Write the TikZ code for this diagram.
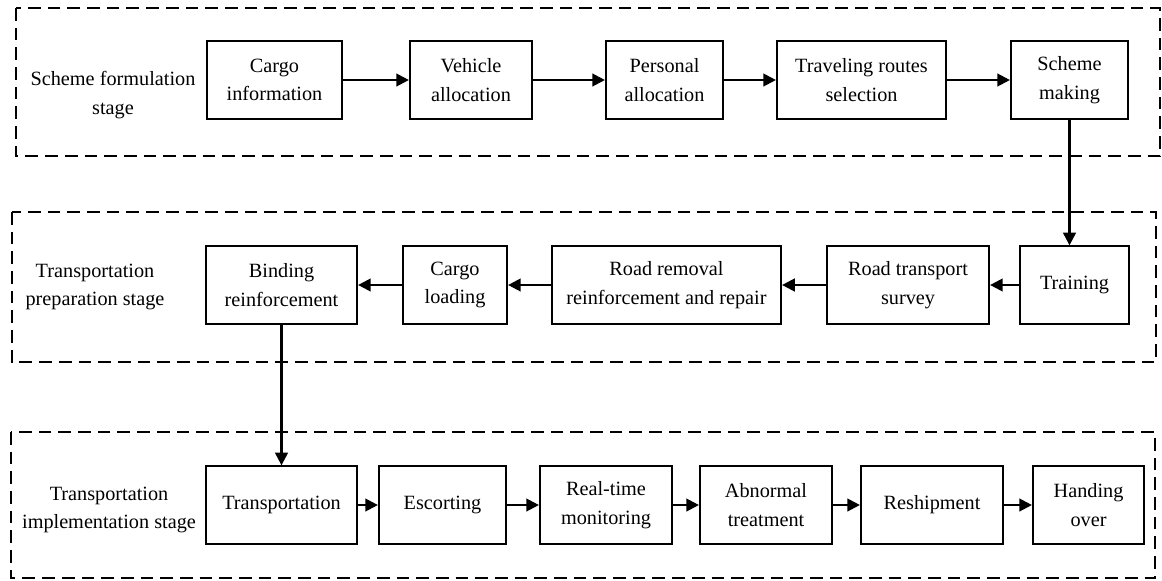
\documentclass[tikz,border=0pt]{standalone}
\usepackage{fontspec}
\setmainfont{Liberation Serif}
\usetikzlibrary{arrows.meta}

\begin{document}
\begin{tikzpicture}[x=0.025cm,y=-0.025cm,>={Triangle[length=9pt,width=9pt]},
    stagebox/.style={draw,line width=1.8pt,dash pattern=on 9pt off 5pt},
    taskbox/.style={draw,line width=1.5pt,align=center,minimum height=1.93cm,inner sep=2pt,font=\fontsize{14.4}{20.3}\selectfont},
    stagelabel/.style={align=center,inner sep=0pt,font=\fontsize{14.4}{20.3}\selectfont},
    flow/.style={->,line width=1.6pt}]
            \useasboundingbox (0,0) rectangle (1162,580);

            % draw the stage frames
            \draw[stagebox] (16,8) rectangle (1160,156);
            \draw[stagebox] (12,212) rectangle (1156,362);
            \draw[stagebox] (11,432) rectangle (1155,578);

            % stage names
            \node[stagelabel] (formlabel) at (113,95) {Scheme formulation\\stage};
            \node[stagelabel] (preplabel) at (95,287) {Transportation\\preparation stage};
            \node[stagelabel] (implabel) at (109,510) {Transportation\\implementation stage};

            % scheme formulation
            \node[taskbox,minimum width=3.375cm] (cargo) at (274.5,80) {Cargo\\information};
            \node[taskbox,minimum width=3.05cm] (vehicle) at (471,80) {Vehicle\\allocation};
            \node[taskbox,minimum width=2.925cm] (personal) at (664.5,80) {Personal\\allocation};
            \node[taskbox,minimum width=4.225cm] (routes) at (861.5,80) {Traveling routes\\selection};
            \node[taskbox,minimum width=2.925cm] (scheme) at (1069.5,80) {Scheme\\making};

            % transportation preparation
            \node[taskbox,minimum width=2.725cm] (training) at (1074.5,285) {Training};
            \node[taskbox,minimum width=4.05cm] (survey) at (908,285) {Road transport\\survey};
            \node[taskbox,minimum width=5.725cm] (removal) at (666.5,285) {Road removal\\reinforcement and repair};
            \node[taskbox,minimum width=2.6cm] (loading) at (455,285) {Cargo\\loading};
            \node[taskbox,minimum width=3.775cm] (binding) at (281.5,285) {Binding\\reinforcement};

            % transportation implementation
            \node[taskbox,minimum width=3.775cm] (transport) at (281.5,505) {Transportation};
            \node[taskbox,minimum width=3.175cm] (escort) at (442.5,505) {Escorting};
            \node[taskbox,minimum width=3.3cm] (monitor) at (606,505) {Real-time\\monitoring};
            \node[taskbox,minimum width=3.3cm] (abnormal) at (766,505) {Abnormal\\treatment};
            \node[taskbox,minimum width=3.55cm] (reship) at (932,505) {Reshipment};
            \node[taskbox,minimum width=2.775cm] (handing) at (1088.5,505) {Handing\\over};

            % arrows
            \draw[flow] (cargo) -- (vehicle);
            \draw[flow] (vehicle) -- (personal);
            \draw[flow] (personal) -- (routes);
            \draw[flow] (routes) -- (scheme);
            \draw[flow] (scheme.south) -- (scheme.south |- training.north);
            \draw[flow] (training) -- (survey);
            \draw[flow] (survey) -- (removal);
            \draw[flow] (removal) -- (loading);
            \draw[flow] (loading) -- (binding);
            \draw[flow] (binding) -- (transport);
            \draw[flow] (transport) -- (escort);
            \draw[flow] (escort) -- (monitor);
            \draw[flow] (monitor) -- (abnormal);
            \draw[flow] (abnormal) -- (reship);
            \draw[flow] (reship) -- (handing);

        \end{tikzpicture}
\end{document}
